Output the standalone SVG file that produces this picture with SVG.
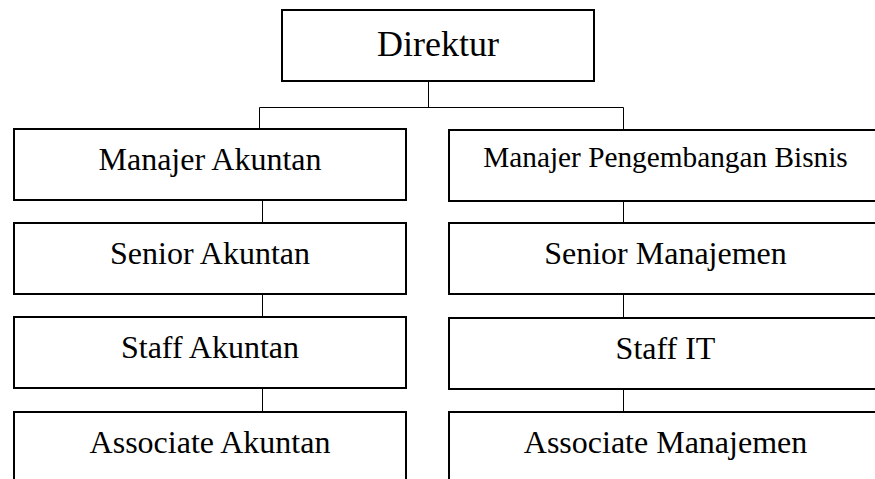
<svg xmlns="http://www.w3.org/2000/svg" width="875" height="479" viewBox="0 0 875 479">
<style>
.box{fill:#fff;stroke:#000;stroke-width:2}
.lbl{font-family:"Liberation Serif","Times New Roman",serif;font-size:32px;fill:#000;text-anchor:middle}
.conn{stroke:#000;stroke-width:1;fill:none}
</style>
<rect width="875" height="479" fill="#fff"/>
<g id="connectors">
<path class="conn" d="M428.5,81 V107.5 M259.5,107.5 H623.5 M259.5,107.5 V129 M623.5,107.5 V130"/>
<path class="conn" d="M262.5,200 V223 M262.5,294 V317 M262.5,388 V412"/>
<path class="conn" d="M623.5,201 V223 M623.5,294 V318 M623.5,389 V412"/>
</g>
<g id="direktur"><rect class="box" x="282" y="10" width="312" height="71"/><text class="lbl" x="438" y="56" style="font-size:36px">Direktur</text></g>
<g id="manajer-akuntan"><rect class="box" x="14" y="129" width="392" height="71"/><text class="lbl" x="210" y="170">Manajer Akuntan</text></g>
<g id="senior-akuntan"><rect class="box" x="14" y="223" width="392" height="71"/><text class="lbl" x="210" y="264">Senior Akuntan</text></g>
<g id="staff-akuntan"><rect class="box" x="14" y="317" width="392" height="71"/><text class="lbl" x="210" y="358">Staff Akuntan</text></g>
<g id="associate-akuntan"><rect class="box" x="14" y="412" width="392" height="80"/><text class="lbl" x="210" y="453">Associate Akuntan</text></g>
<g id="manajer-pengembangan-bisnis"><rect class="box" x="449" y="130" width="433" height="71"/><text class="lbl" x="665.5" y="167" style="font-size:29.3px">Manajer Pengembangan Bisnis</text></g>
<g id="senior-manajemen"><rect class="box" x="449" y="223" width="433" height="71"/><text class="lbl" x="665.5" y="264">Senior Manajemen</text></g>
<g id="staff-it"><rect class="box" x="449" y="318" width="433" height="71"/><text class="lbl" x="665.5" y="359">Staff IT</text></g>
<g id="associate-manajemen"><rect class="box" x="449" y="412" width="433" height="80"/><text class="lbl" x="665.5" y="453">Associate Manajemen</text></g>
</svg>
